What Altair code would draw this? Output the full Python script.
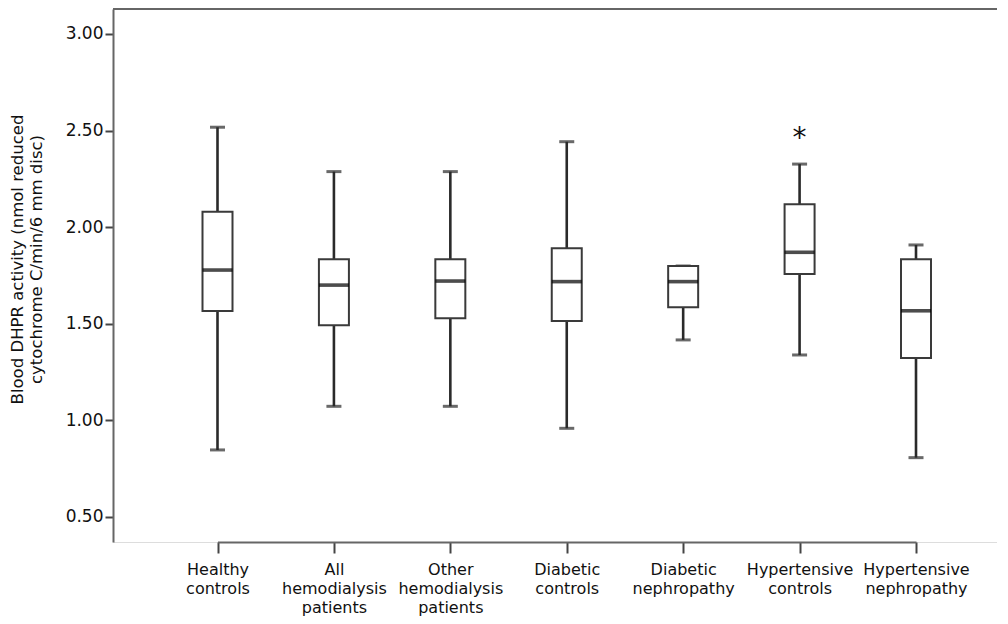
import altair as alt
import pandas as pd

groups = ["Healthy|controls", "All|hemodialysis|patients", "Other|hemodialysis|patients",
          "Diabetic|controls", "Diabetic|nephropathy", "Hypertensive|controls",
          "Hypertensive|nephropathy"]
whisker_low = [0.845, 1.071, 1.071, 0.957, 1.415, 1.337, 0.805]
q1 = [1.565, 1.491, 1.527, 1.513, 1.584, 1.756, 1.321]
median = [1.777, 1.699, 1.720, 1.717, 1.717, 1.869, 1.566]
q3 = [2.079, 1.833, 1.833, 1.890, 1.798, 2.118, 1.833]
whisker_high = [2.517, 2.287, 2.287, 2.442, 1.798, 2.326, 1.907]

star_group = ["Hypertensive|controls"]
star_value = [2.49]

y_ticks = [0.5, 1.0, 1.5, 2.0, 2.5, 3.0]

df = pd.DataFrame({"group": groups, "lo": whisker_low, "q1": q1, "med": median,
                   "q3": q3, "hi": whisker_high})
star_df = pd.DataFrame({"group": star_group, "v": star_value, "t": ["*"]})

W, H = 884, 533
FONT = "DejaVu Sans"

x_enc = alt.X("group:N", sort=groups,
              scale=alt.Scale(type="point", range=[104.5, 803], padding=0),
              axis=alt.Axis(title=None, labelExpr="split(datum.label, '|')",
                            labelAngle=0, labelFontSize=16, labelFont=FONT,
                            labelColor="#111", labelLineHeight=19, labelPadding=8,
                            tickSize=11, tickWidth=2, tickColor="#444",
                            domainColor="#666", domainWidth=2, labelBaseline="top"))
y_scale = alt.Scale(domain=[0.368, 3.1295], nice=False, zero=False)
y_axis = alt.Axis(title=["Blood DHPR activity (nmol reduced", "cytochrome C/min/6 mm disc)"],
                  values=y_ticks, format=".2f", grid=False,
                  labelFontSize=17, labelFont=FONT, labelColor="#111", labelPadding=2,
                  tickSize=8, tickWidth=2, tickColor="#444",
                  domainColor="#666", domainWidth=2,
                  titleFont=FONT, titleFontSize=16.5, titleFontWeight="normal",
                  titleColor="#111", titleLineHeight=19, titleX=-88, titleY=250)

base = alt.Chart(df)

whiskers = base.mark_rule(color="#2a2a2a", strokeWidth=2.6).encode(
    x=x_enc, y=alt.Y("lo:Q", scale=y_scale, axis=y_axis), y2="hi:Q")
caps_lo = base.mark_tick(color="#2a2a2a", size=15, thickness=3).encode(
    x=alt.X("group:N", sort=groups), y="lo:Q")
caps_hi = base.mark_tick(color="#2a2a2a", size=15, thickness=3).encode(
    x=alt.X("group:N", sort=groups), y="hi:Q")
boxes = base.mark_bar(size=30, fill="white", stroke="#3a3a3a", strokeWidth=2).encode(
    x=alt.X("group:N", sort=groups), y="q1:Q", y2="q3:Q")
medians = base.mark_tick(color="#000", size=30, thickness=3.6).encode(
    x=alt.X("group:N", sort=groups), y="med:Q")
star = alt.Chart(star_df).mark_text(fontSize=28, font=FONT, color="#111",
                                    baseline="middle", dy=7).encode(
    x=alt.X("group:N", sort=groups), y="v:Q", text="t:N")
top_border = alt.Chart(df).mark_rule(color="#666", strokeWidth=2).encode(
    x=alt.value(0), x2=alt.value(W), y=alt.value(0))

chart = alt.layer(whiskers, caps_lo, caps_hi, boxes, medians, star, top_border).properties(
    width=W, height=H,
    autosize=alt.AutoSizeParams(type="none"),
    padding={"left": 105, "top": 1, "right": 0, "bottom": 82},
).configure_view(stroke=None).configure(background="white")

chart.save("out.html", embed_options={"renderer": "svg", "actions": False})
